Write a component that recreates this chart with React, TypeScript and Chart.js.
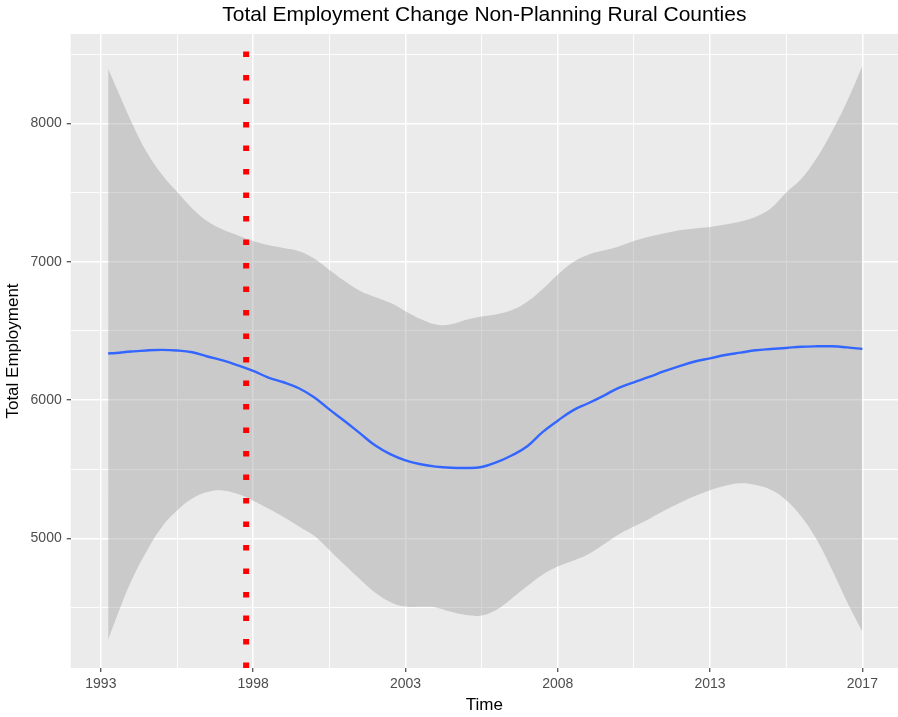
import React, { useEffect, useRef } from 'react';
import { Chart, registerables } from 'chart.js';

Chart.register(...registerables);

const TITLE = 'Total Employment Change Non-Planning Rural Counties';
const X_TITLE = 'Time';
const Y_TITLE = 'Total Employment';

const xTickPositions = [0, 5, 10, 15, 20, 25];
const xTickLabels = ['1993', '1998', '2003', '2008', '2013', '2017'];
const xMinorPositions = [2.5, 7.5, 12.5, 17.5, 22.5];
const yTickValues = [5000, 6000, 7000, 8000];
const yMinorValues = [4500, 5500, 6500, 7500, 8500];

const timePoints = [0.24, 0.5, 1, 1.5, 2, 2.5, 3, 3.5, 4, 4.5, 5, 5.5, 6, 6.5, 7, 7.5, 8, 8.5, 9, 9.5, 10, 10.5, 11, 11.5, 12, 12.5, 13, 13.5, 14, 14.5, 15, 15.5, 16, 16.5, 17, 17.5, 18, 18.5, 19, 19.5, 20, 20.5, 21, 21.5, 22, 22.5, 23, 23.5, 24, 24.5, 25];

const smoothMean = [6336, 6340, 6350, 6358, 6362, 6358, 6345, 6314, 6286, 6250, 6210, 6162, 6128, 6085, 6020, 5932, 5848, 5760, 5672, 5608, 5563, 5535, 5518, 5510, 5508, 5515, 5550, 5600, 5665, 5767, 5850, 5925, 5976, 6030, 6088, 6128, 6167, 6208, 6245, 6278, 6301, 6325, 6342, 6359, 6368, 6376, 6385, 6388, 6388, 6380, 6368];

const upperBand = [8395, 8262, 8012, 7795, 7632, 7505, 7385, 7292, 7232, 7190, 7150, 7120, 7098, 7075, 7022, 6940, 6860, 6790, 6745, 6702, 6642, 6585, 6545, 6548, 6580, 6603, 6620, 6650, 6710, 6800, 6905, 6995, 7050, 7080, 7110, 7150, 7180, 7205, 7227, 7240, 7251, 7268, 7290, 7325, 7387, 7500, 7600, 7750, 7940, 8160, 8415];

const lowerBand = [4267, 4420, 4692, 4905, 5080, 5200, 5288, 5335, 5346, 5320, 5272, 5215, 5153, 5085, 5018, 4915, 4808, 4705, 4608, 4540, 4506, 4505, 4500, 4468, 4445, 4442, 4485, 4567, 4655, 4737, 4796, 4838, 4885, 4955, 5028, 5085, 5140, 5200, 5255, 5305, 5348, 5380, 5398, 5385, 5350, 5275, 5156, 4991, 4774, 4540, 4326];

const markerTime = 4.77;

const X_MIN = -0.99;
const X_MAX = 26.17;
const Y_MIN = 4062;
const Y_MAX = 8646;

const FONT = '"Liberation Sans", Arial, "DejaVu Sans", sans-serif';

const panelBg = {
  id: 'panelBg',
  beforeDraw(chart: any) {
    const { ctx, chartArea } = chart;
    if (!chartArea) return;
    ctx.save();
    ctx.fillStyle = '#EBEBEB';
    ctx.fillRect(chartArea.left, chartArea.top, chartArea.right - chartArea.left, chartArea.bottom - chartArea.top);
    ctx.restore();
  },
};

export default function App() {
  const canvasRef = useRef<HTMLCanvasElement | null>(null);

  useEffect(() => {
    document.body.style.margin = '0';
    document.body.style.overflow = 'hidden';
    const canvas = canvasRef.current;
    if (!canvas) return;

    const pts = (ys: number[]) => timePoints.map((x, i) => ({ x, y: ys[i] }));
    const isMajorX = (v: number) => xTickPositions.indexOf(v) >= 0;
    const isMajorY = (v: number) => yTickValues.indexOf(v) >= 0;

    const chart = new Chart(canvas, {
      type: 'line',
      data: {
        datasets: [
          {
            label: 'lower',
            data: pts(lowerBand),
            borderColor: 'rgba(0,0,0,0)',
            backgroundColor: 'rgba(0,0,0,0)',
            pointRadius: 0,
            tension: 0.4,
            fill: false,
            order: 4,
          },
          {
            label: 'upper',
            data: pts(upperBand),
            borderColor: 'rgba(0,0,0,0)',
            backgroundColor: 'rgba(153,153,153,0.4)',
            pointRadius: 0,
            tension: 0.4,
            fill: '-1',
            order: 3,
          },
          {
            label: 'smooth',
            data: pts(smoothMean),
            borderColor: '#3366FF',
            borderWidth: 2.4,
            pointRadius: 0,
            tension: 0.4,
            fill: false,
            order: 2,
          },
          {
            label: 'marker',
            data: [
              { x: markerTime, y: Y_MIN },
              { x: markerTime, y: Y_MAX },
            ],
            borderColor: '#FF0000',
            borderWidth: 6,
            borderDash: [5.5, 18],
            borderCapStyle: 'butt',
            pointRadius: 0,
            fill: false,
            order: 1,
          },
        ],
      } as any,
      options: {
        responsive: false,
        animation: false,
        events: [],
        layout: { padding: 0 },
        plugins: {
          legend: { display: false },
          tooltip: { enabled: false },
          title: {
            display: true,
            text: TITLE,
            fullSize: false,
            color: '#000000',
            font: { family: FONT, size: 21, weight: 'normal' },
            padding: { top: 3, bottom: 5.8 },
          },
        },
        scales: {
          x: {
            type: 'linear',
            min: X_MIN,
            max: X_MAX,
            afterBuildTicks: (scale: any) => {
              scale.ticks = [...xTickPositions, ...xMinorPositions]
                .sort((a, b) => a - b)
                .map((v) => ({ value: v }));
            },
            afterFit: (scale: any) => {
              scale.height = 49;
            },
            ticks: {
              autoSkip: false,
              maxRotation: 0,
              minRotation: 0,
              padding: 3.5,
              color: '#4D4D4D',
              font: { family: FONT, size: 14 },
              callback: (v: any) => {
                const i = xTickPositions.indexOf(Number(v));
                return i >= 0 ? xTickLabels[i] : '';
              },
            },
            grid: {
              color: '#FFFFFF',
              lineWidth: (c: any) => (c.tick && isMajorX(c.tick.value) ? 1.5 : 0.9),
              drawTicks: true,
              tickLength: 4,
              tickWidth: 1.1,
              tickColor: (c: any) => (c.tick && isMajorX(c.tick.value) ? '#333333' : 'rgba(0,0,0,0)'),
            },
            border: { display: false },
            title: {
              display: true,
              text: X_TITLE,
              color: '#000000',
              font: { family: FONT, size: 17 },
              padding: { top: 0, bottom: 1 },
            },
          },
          y: {
            type: 'linear',
            min: Y_MIN,
            max: Y_MAX,
            afterBuildTicks: (scale: any) => {
              scale.ticks = [...yTickValues, ...yMinorValues]
                .sort((a, b) => a - b)
                .map((v) => ({ value: v }));
            },
            afterFit: (scale: any) => {
              scale.width = 70.7;
            },
            ticks: {
              autoSkip: false,
              padding: 5,
              color: '#4D4D4D',
              font: { family: FONT, size: 14 },
              callback: (v: any) => (isMajorY(Number(v)) ? String(v) : ''),
            },
            grid: {
              color: '#FFFFFF',
              lineWidth: (c: any) => (c.tick && isMajorY(c.tick.value) ? 1.5 : 0.9),
              drawTicks: true,
              tickLength: 4,
              tickWidth: 1.1,
              tickColor: (c: any) => (c.tick && isMajorY(c.tick.value) ? '#333333' : 'rgba(0,0,0,0)'),
            },
            border: { display: false },
            title: {
              display: true,
              text: Y_TITLE,
              color: '#000000',
              font: { family: FONT, size: 17 },
              padding: { top: 3, bottom: 0 },
            },
          },
        },
      } as any,
      plugins: [panelBg],
    });

    return () => {
      chart.destroy();
    };
  }, []);

  return (
    <div style={{ width: 898, height: 717 }}>
      <canvas ref={canvasRef} width={898} height={717} style={{ display: 'block' }} />
    </div>
  );
}
